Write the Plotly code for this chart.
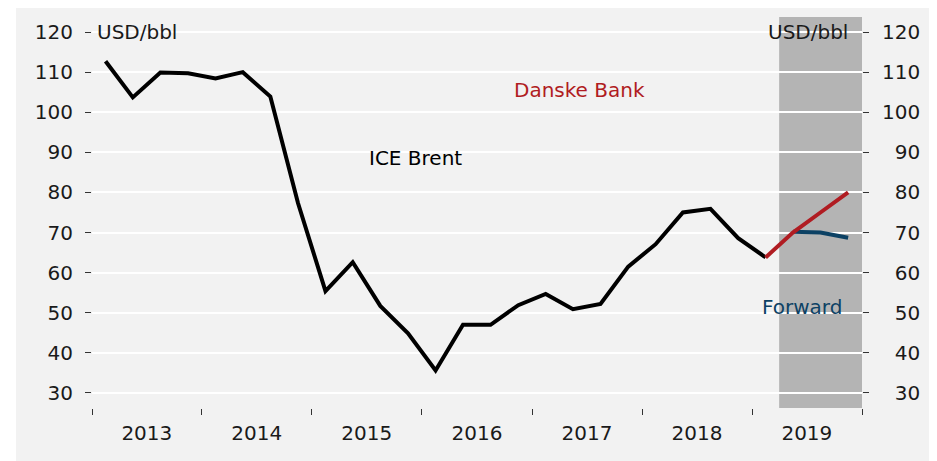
import pandas as pd
import plotly.graph_objects as go

# ---- data ----
brent_quarters = ["2013Q1", "2013Q2", "2013Q3", "2013Q4",
                  "2014Q1", "2014Q2", "2014Q3", "2014Q4",
                  "2015Q1", "2015Q2", "2015Q3", "2015Q4",
                  "2016Q1", "2016Q2", "2016Q3", "2016Q4",
                  "2017Q1", "2017Q2", "2017Q3", "2017Q4",
                  "2018Q1", "2018Q2", "2018Q3", "2018Q4",
                  "2019Q1"]
brent_values = [112.7, 103.7, 109.9, 109.7,
                108.4, 110.0, 103.9, 77.3,
                55.4, 62.6, 51.7, 44.9,
                35.6, 47.0, 47.0, 51.9,
                54.7, 50.9, 52.2, 61.5,
                67.1, 75.0, 75.9, 68.6,
                63.8]

danske_quarters = ["2019Q1", "2019Q2", "2019Q3", "2019Q4"]
danske_values = [63.8, 70.0, 75.0, 80.0]

forward_quarters = ["2019Q2", "2019Q3", "2019Q4"]
forward_values = [70.2, 70.0, 68.7]

years = [2013, 2014, 2015, 2016, 2017, 2018, 2019]
year_labels = ["2013", "2014", "2015", "2016", "2017", "2018", "2019"]
y_ticks = [30, 40, 50, 60, 70, 80, 90, 100, 110, 120]
forecast_start = "2019-04-01"
forecast_end = "2020-01-01"


def mid_quarter(qs):
    p = pd.PeriodIndex(qs, freq="Q")
    return list(p.start_time + (p.end_time - p.start_time) / 2)


FONT = "DejaVu Sans"
TXT = "#1a1a1a"
BLACK = "#000000"
RED = "#b01c22"
BLUE = "#0c4164"

fig = go.Figure()
fig.add_trace(go.Scatter(x=mid_quarter(brent_quarters), y=brent_values, mode="lines",
                         line=dict(color=BLACK, width=4), showlegend=False))
fig.add_trace(go.Scatter(x=mid_quarter(forward_quarters), y=forward_values, mode="lines",
                         line=dict(color=BLUE, width=4), showlegend=False))
fig.add_trace(go.Scatter(x=mid_quarter(danske_quarters), y=danske_values, mode="lines",
                         line=dict(color=RED, width=4), showlegend=False))
# invisible trace to activate right axis
fig.add_trace(go.Scatter(x=mid_quarter(brent_quarters[:1]), y=brent_values[:1], yaxis="y2",
                         mode="lines", line=dict(width=0), hoverinfo="skip", showlegend=False))

yrange = [26.25, 123.75]

fig.update_layout(
    width=937, height=461,
    margin=dict(l=84, r=83, t=9, b=61),
    paper_bgcolor="#f2f2f2",
    plot_bgcolor="#f2f2f2",
    font=dict(family=FONT, size=20, color=TXT),
    xaxis=dict(
        type="date",
        range=["2013-01-01", forecast_end],
        tickvals=[f"{y}-07-02" for y in years],
        ticktext=year_labels,
        ticks="",
        showgrid=False, zeroline=False, showline=False,
        ticklabelstandoff=11,
        tickfont=dict(size=20),
        minor=dict(ticks="outside", ticklen=6, tickwidth=1, tickcolor="#333333",
                   tick0="2013-01-01", dtick="M12", showgrid=False),
    ),
    yaxis=dict(
        range=yrange,
        tickvals=y_ticks,
        ticktext=[str(v) for v in y_ticks],
        ticks="outside", ticklen=6, tickwidth=1, tickcolor="#333333",
        showgrid=True, gridcolor="#ffffff", gridwidth=2,
        zeroline=False, showline=False,
        ticklabelstandoff=8,
    ),
    yaxis2=dict(
        range=yrange,
        overlaying="y", side="right",
        tickvals=y_ticks,
        ticktext=[("\u2007" * (3 - len(str(v)))) + str(v) for v in y_ticks],
        ticks="outside", ticklen=6, tickwidth=1, tickcolor="#333333",
        showgrid=False, zeroline=False, showline=False,
        ticklabelstandoff=9,
    ),
    shapes=[
        dict(type="rect", xref="x", yref="paper", x0=forecast_start, x1=forecast_end,
             y0=0, y1=1, fillcolor="#b4b4b4", line=dict(width=0), layer="below"),
        dict(type="rect", xref="paper", yref="paper", x0=-0.2, x1=-0.0987,
             y0=-0.3, y1=1.1, fillcolor="#ffffff", line=dict(width=0), layer="below"),
    ],
    annotations=[
        dict(text="USD/bbl", xref="paper", yref="y", x=0.004, y=120, xanchor="left",
             yanchor="middle", showarrow=False, font=dict(size=20, color=TXT)),
        dict(text="USD/bbl", xref="paper", yref="y", x=0.984, y=120, xanchor="right",
             yanchor="middle", showarrow=False, font=dict(size=20, color=TXT)),
        dict(text="Danske Bank", xref="paper", yref="y", x=0.6325, y=105.5, xanchor="center",
             yanchor="middle", showarrow=False, font=dict(size=20, color=RED)),
        dict(text="ICE Brent", xref="paper", yref="y", x=0.4195, y=88.6, xanchor="center",
             yanchor="middle", showarrow=False, font=dict(size=20, color=BLACK)),
        dict(text="Forward", xref="paper", yref="y", x=0.922, y=51.4, xanchor="center",
             yanchor="middle", showarrow=False, font=dict(size=20, color=BLUE)),
    ],
)

fig.write_html("out.html")
